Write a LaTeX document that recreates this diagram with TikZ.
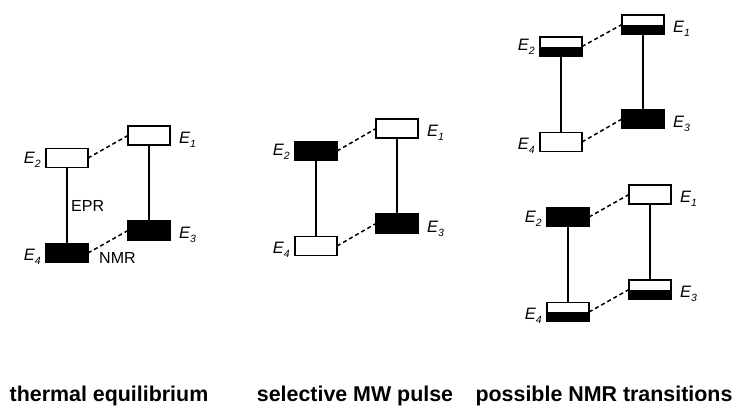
\documentclass[tikz,border=0pt]{standalone}
\usepackage{fontspec}
\setmainfont{Liberation Sans}
\newcommand{\Elev}[1]{E\raisebox{-4pt}{\fontsize{10.5}{10.5}\selectfont #1}}
\begin{document}
\begin{tikzpicture}[x=1pt,y=-1pt,
 lvl/.style={draw=black, line width=1.5pt, minimum width=42pt, minimum height=19pt, inner sep=0pt, outer sep=0pt},
 empty/.style={lvl, fill=white},
 full/.style={lvl, fill=black},
 half/.style={lvl, fill=white, path picture={\fill[black] (path picture bounding box.west) rectangle (path picture bounding box.south east);}},
 trans/.style={line width=1.5pt},
 link/.style={line width=1.5pt, dash pattern=on 4pt off 3pt},
 elab/.style={font=\fontsize{16.5}{16.5}\selectfont\itshape, inner sep=0pt},
 llab/.style={elab, anchor=base east},
 rlab/.style={elab, anchor=base west},
 txt/.style={font=\fontsize{16}{16}\selectfont, inner sep=0pt, anchor=west},
 caption/.style={font=\fontsize{21.4}{24}\selectfont\bfseries, inner sep=0pt, anchor=base}]
\useasboundingbox[fill=white] (0,0) rectangle (735,405);

% Panel 1: thermal equilibrium
\node[empty] (a2) at (67,158) {};
\node[empty] (a1) at (149,135.5) {};
\node[full] (a3) at (149,230.5) {};
\node[full] (a4) at (67,253) {};
\draw[trans] (a2) -- (a4);
\draw[trans] (a1) -- (a3);
\draw[link] (a2.east) -- (a1.west);
\draw[link] (a4.east) -- (a3.west);
\node[llab] (la2) at ([xshift=-5pt,yshift=-5pt]a2.west) {\Elev{2}};
\node[llab] (la4) at ([xshift=-5pt,yshift=-7.5pt]a4.west) {\Elev{4}};
\node[rlab] (la1) at ([xshift=9pt,yshift=-8pt]a1.east) {\Elev{1}};
\node[rlab] (la3) at ([xshift=9pt,yshift=-8pt]a3.east) {\Elev{3}};
\node[txt] (epr) at (71,206) {EPR};
\node[txt] (nmr) at (99,258) {NMR};

% Panel 2: selective MW pulse
\node[full] (b2) at (316,151) {};
\node[empty] (b1) at (397,128.5) {};
\node[full] (b3) at (397,223.5) {};
\node[empty] (b4) at (316,246) {};
\draw[trans] (b2) -- (b4);
\draw[trans] (b1) -- (b3);
\draw[link] (b2.east) -- (b1.west);
\draw[link] (b4.east) -- (b3.west);
\node[llab] (lb2) at ([xshift=-5pt,yshift=-4pt]b2.west) {\Elev{2}};
\node[llab] (lb4) at ([xshift=-5pt,yshift=-7.5pt]b4.west) {\Elev{4}};
\node[rlab] (lb1) at ([xshift=9pt,yshift=-8pt]b1.east) {\Elev{1}};
\node[rlab] (lb3) at ([xshift=9pt,yshift=-9pt]b3.east) {\Elev{3}};

% Panel 3 top
\node[half] (c2) at (561,46.5) {};
\node[half] (c1) at (643,24.5) {};
\node[full] (c3) at (643,119) {};
\node[empty] (c4) at (561,142) {};
\draw[trans] (c2) -- (c4);
\draw[trans] (c1) -- (c3);
\draw[link] (c2.east) -- (c1.west);
\draw[link] (c4.east) -- (c3.west);
\node[llab] (lc2) at ([xshift=-5pt,yshift=-4pt]c2.west) {\Elev{2}};
\node[llab] (lc4) at ([xshift=-5pt,yshift=-7.5pt]c4.west) {\Elev{4}};
\node[rlab] (lc1) at ([xshift=9pt,yshift=-8pt]c1.east) {\Elev{1}};
\node[rlab] (lc3) at ([xshift=9pt,yshift=-8pt]c3.east) {\Elev{3}};

% Panel 3 bottom
\node[full] (d2) at (568,217) {};
\node[empty] (d1) at (650,194.5) {};
\node[half] (d3) at (650,289.5) {};
\node[half] (d4) at (568,312) {};
\draw[trans] (d2) -- (d4);
\draw[trans] (d1) -- (d3);
\draw[link] (d2.east) -- (d1.west);
\draw[link] (d4.east) -- (d3.west);
\node[llab] (ld2) at ([xshift=-5pt,yshift=-5pt]d2.west) {\Elev{2}};
\node[llab] (ld4) at ([xshift=-5pt,yshift=-7.5pt]d4.west) {\Elev{4}};
\node[rlab] (ld1) at ([xshift=9pt,yshift=-8pt]d1.east) {\Elev{1}};
\node[rlab] (ld3) at ([xshift=9pt,yshift=-8pt]d3.east) {\Elev{3}};

% Captions
\node[caption] (cap1) at (109,401) {thermal equilibrium};
\node[caption] (cap2) at (355,401) {selective MW pulse};
\node[caption] (cap3) at (604,401) {possible NMR transitions};
\end{tikzpicture}
\end{document}
